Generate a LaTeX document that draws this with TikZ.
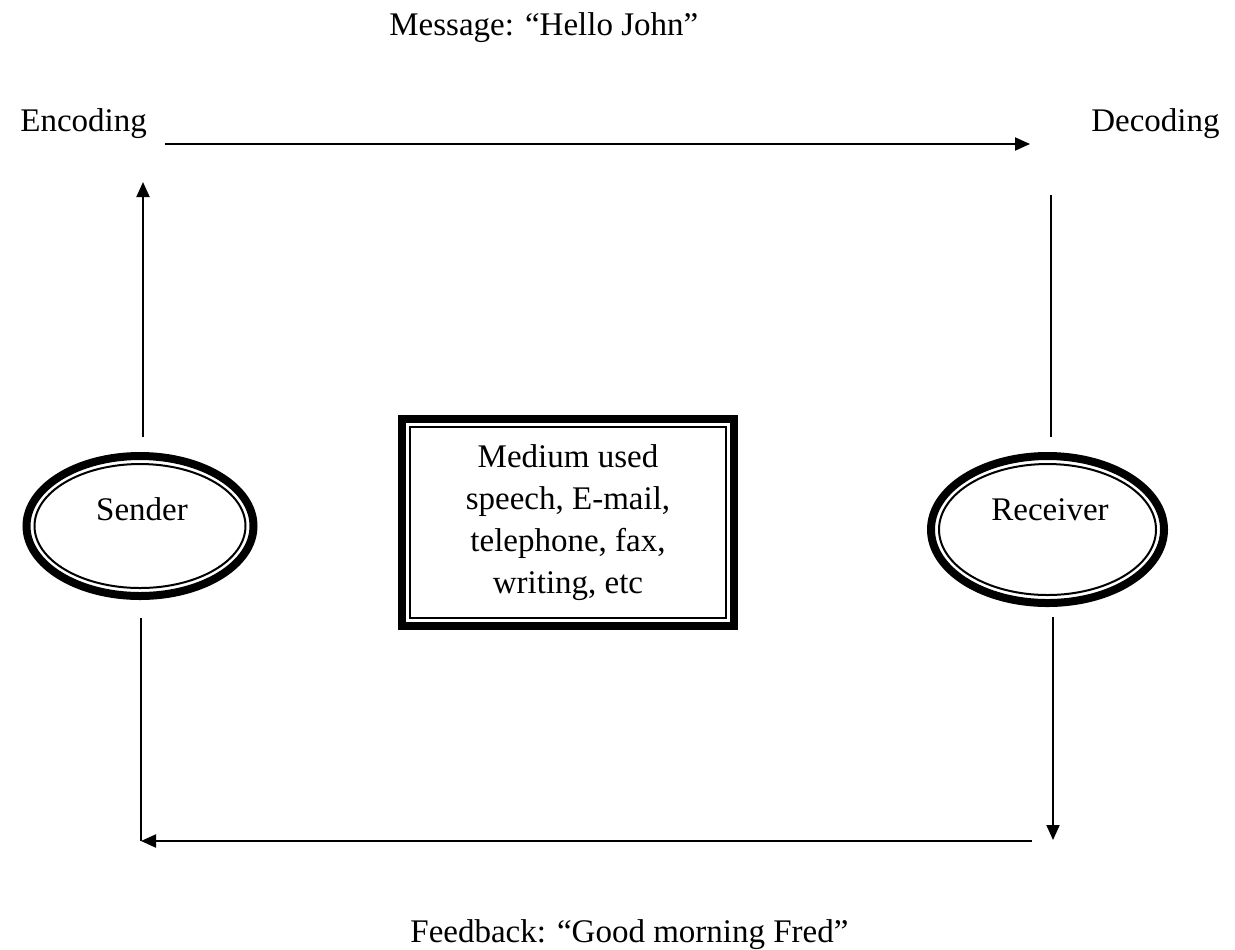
\documentclass[tikz,border=0pt]{standalone}
\usepackage{fontspec}
\setmainfont{Liberation Serif}
\usetikzlibrary{arrows.meta,shapes.geometric}
\begin{document}
\begin{tikzpicture}[x=0.5pt,y=-0.5pt,
  lbl/.style={font=\fontsize{16.5}{21}\selectfont, inner sep=0pt},
  link/.style={line width=1pt},
  arr/.style={link,-{Triangle[length=7.5pt,width=6.5pt]}},
  party/.style={ellipse, draw, line width=4pt, inner sep=0pt, outer sep=0pt},
  innerline/.style={line width=1pt},
  mediumbox/.style={rectangle, draw, line width=4pt, inner sep=0pt, outer sep=0pt,
    minimum width=166pt, minimum height=103.5pt}
]
\useasboundingbox (0,0) rectangle (1235,949);

% titles
\node[lbl, anchor=base west] (msg) at (389,35) {Message: “Hello John”};
\node[lbl, anchor=base west] (enc) at (20,131) {Encoding};
\node[lbl, anchor=base east] (dec) at (1220,131) {Decoding};
\node[lbl, anchor=base west] (fb) at (410,942) {Feedback: “Good morning Fred”};

% sender and receiver (thick-thin double ellipses)
\node[party, minimum width=113.5pt, minimum height=70pt] (sender) at (140,526) {};
\draw[innerline] (sender.center) ellipse [x radius=52.75pt, y radius=31pt];
\node[lbl, anchor=base] (sendertxt) at (142,520) {Sender};

\node[party, minimum width=116.5pt, minimum height=73.5pt] (receiver) at (1047.5,529.5) {};
\draw[innerline] (receiver.center) ellipse [x radius=54.25pt, y radius=32.75pt];
\node[lbl, anchor=base] (receivertxt) at (1050,520) {Receiver};

% medium box (thick-thin double frame)
\node[mediumbox] (medium) at (568,522.5) {};
\draw[innerline] ([shift={(8,8)}]medium.north west) rectangle ([shift={(-8,-8)}]medium.south east);
\node[lbl, align=center] (mediumtxt) at (568,522.5)
  {Medium used\\speech, E-mail,\\telephone, fax,\\writing, etc};

% connector end points
\coordinate (encTip) at (143,182);
\coordinate (msgStart) at (165,144);
\coordinate (msgEnd) at (1030,144);
\coordinate (decTop) at (1051,195);
\coordinate (fbLeft) at (141,841);
\coordinate (fbRight) at (1032,841);
\coordinate (downTip) at (1053,840);

% message loop
\draw[arr, shorten <=9.5pt] (sender.north -| encTip) -- (encTip);
\draw[arr] (msgStart) -- (msgEnd);
\draw[link, shorten >=9.5pt] (decTop) -- (decTop |- receiver.north);

% feedback loop
\draw[arr, shorten <=7pt] (receiver.south -| downTip) -- (downTip);
\draw[arr] (fbRight) -- (fbLeft);
\draw[link, shorten <=11pt] (sender.south -| fbLeft) -- (fbLeft);
\end{tikzpicture}
\end{document}
